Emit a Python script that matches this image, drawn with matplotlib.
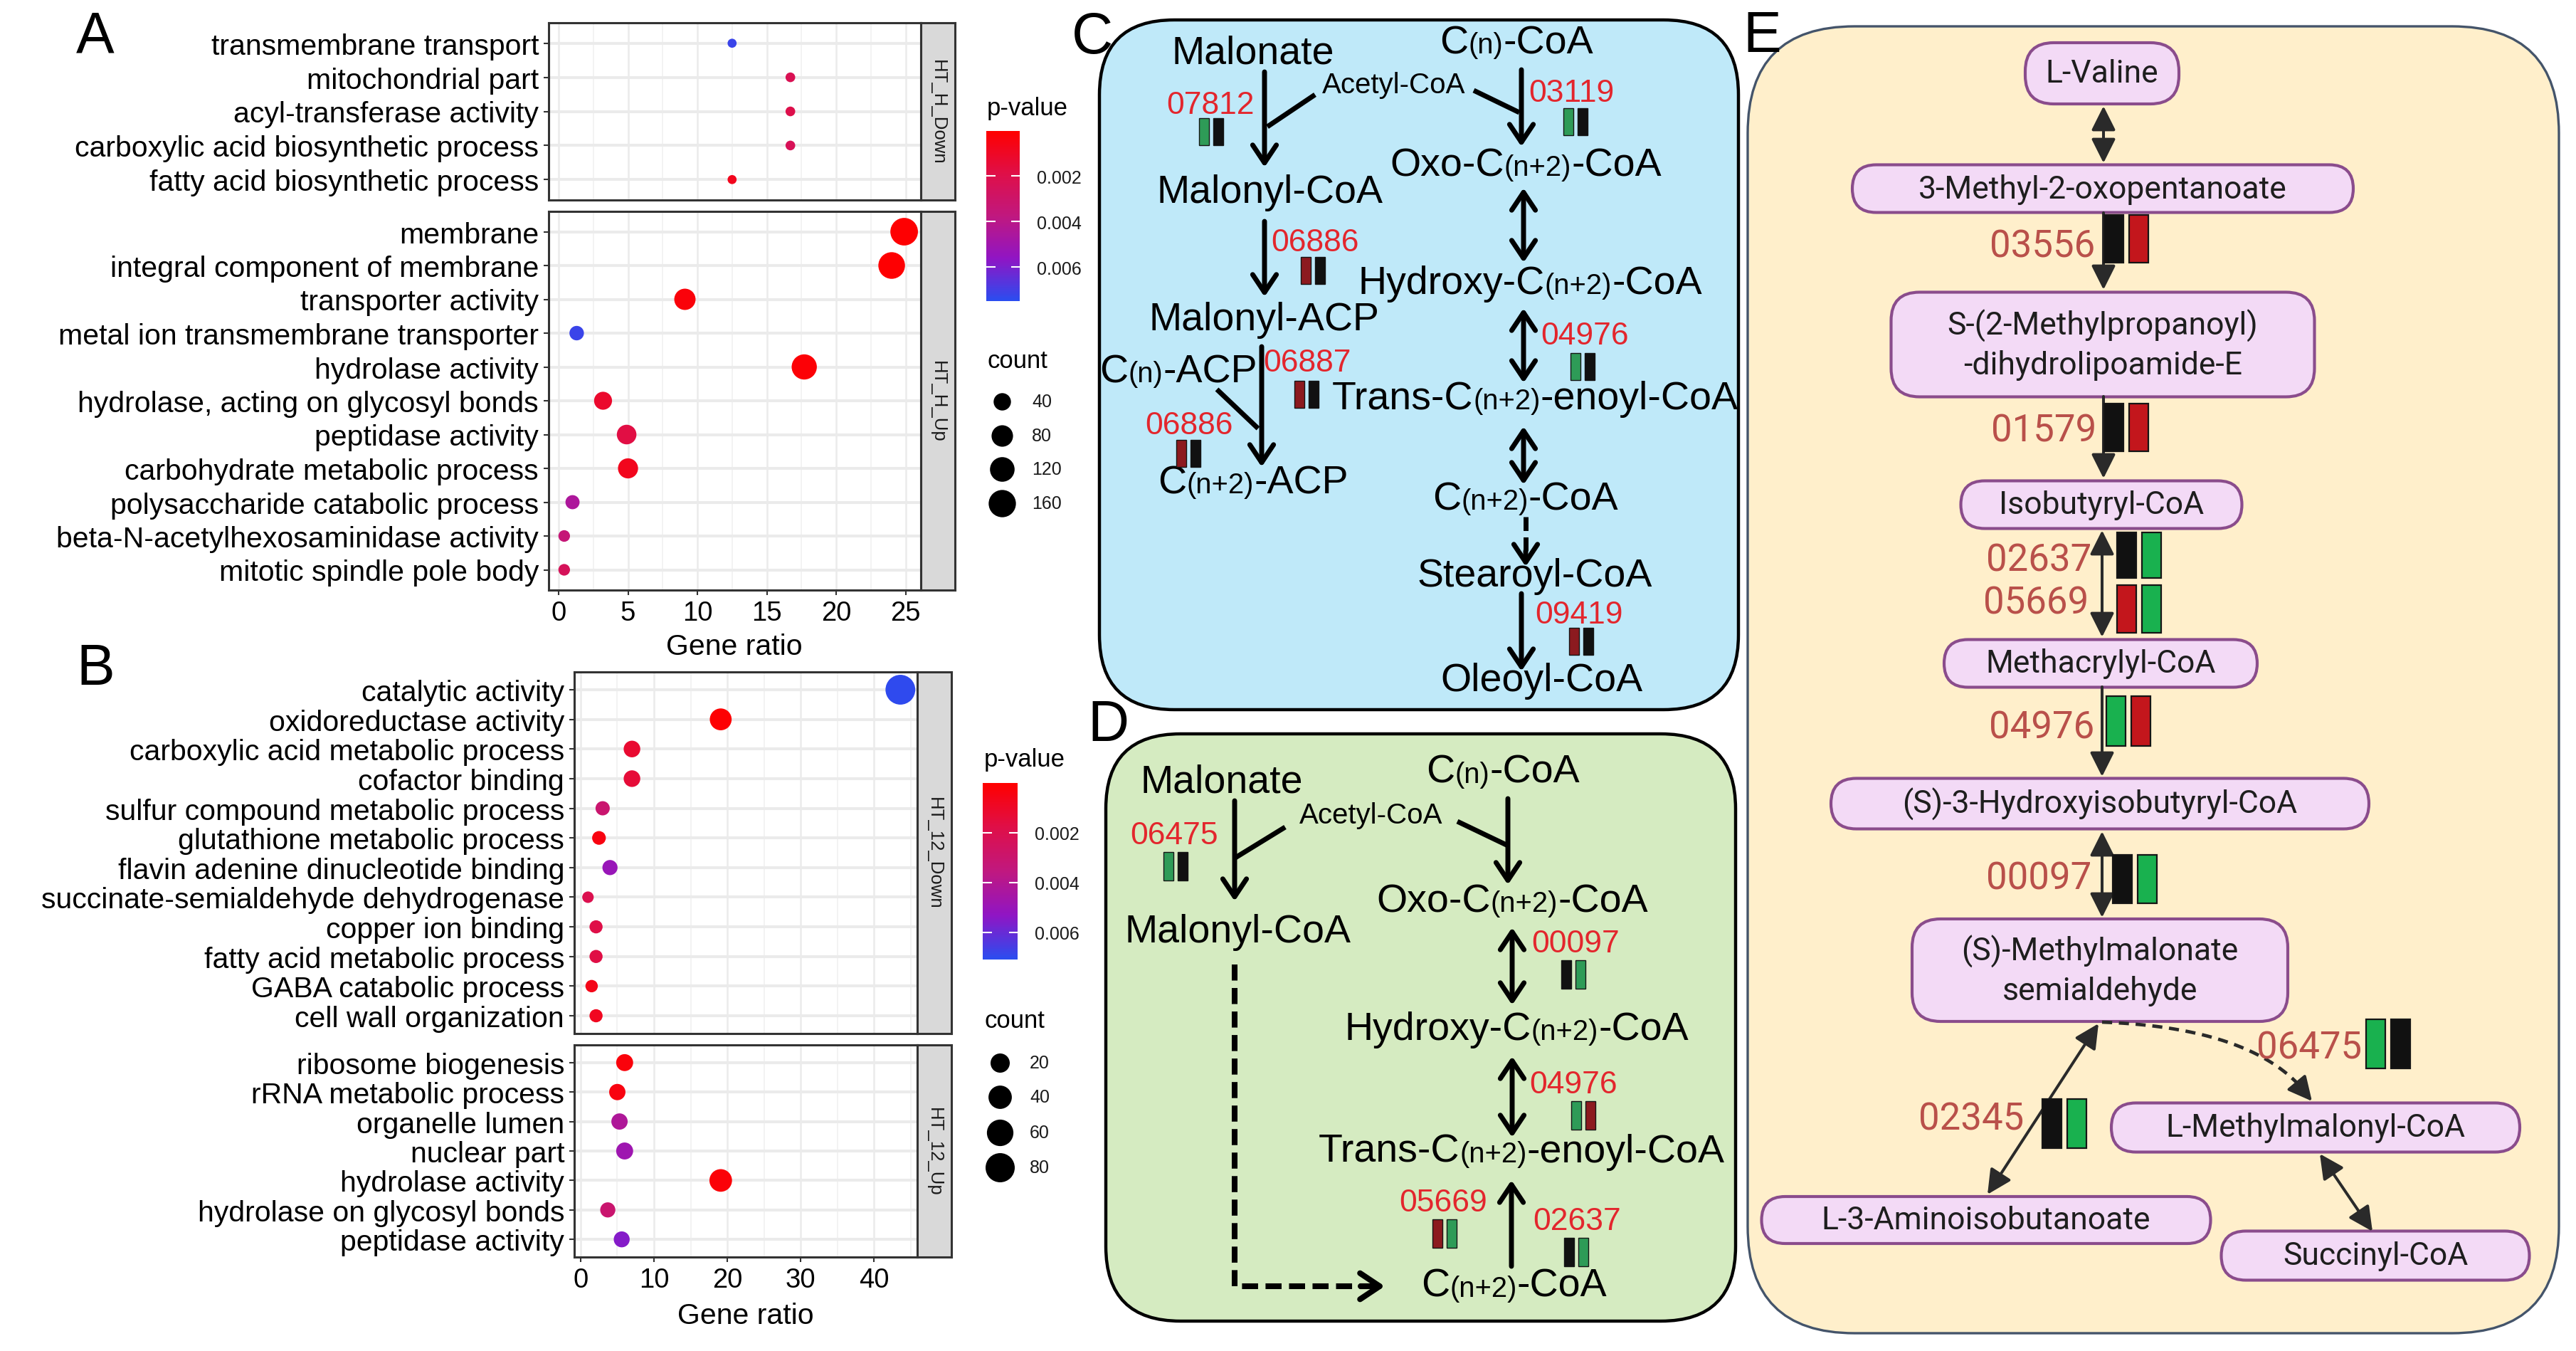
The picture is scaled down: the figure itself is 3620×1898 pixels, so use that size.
import re
import numpy as np
import matplotlib
matplotlib.use("Agg")
import matplotlib.pyplot as plt
from matplotlib.patches import FancyBboxPatch, Rectangle
from matplotlib.colors import LinearSegmentedColormap, Normalize
from matplotlib.offsetbox import TextArea, HPacker, AnnotationBbox

plt.rcParams['font.family'] = ['Liberation Sans', 'DejaVu Sans']

# ---------------- data: panel A (HT_H) ----------------
a_down_terms = ["transmembrane transport", "mitochondrial part", "acyl-transferase activity",
                "carboxylic acid biosynthetic process", "fatty acid biosynthetic process"]
a_down_ratio = [12.5, 16.7, 16.7, 16.7, 12.5]
a_down_count = [1, 2, 2, 2, 1]
a_down_p = [0.0072, 0.0023, 0.0020, 0.0024, 0.0008]

a_up_terms = ["membrane", "integral component of membrane", "transporter activity",
              "metal ion transmembrane transporter", "hydrolase activity",
              "hydrolase, acting on glycosyl bonds", "peptidase activity",
              "carbohydrate metabolic process", "polysaccharide catabolic process",
              "beta-N-acetylhexosaminidase activity", "mitotic spindle pole body"]
a_up_ratio = [24.9, 24.0, 9.1, 1.3, 17.7, 3.2, 4.9, 5.0, 1.0, 0.4, 0.4]
a_up_count = [165, 150, 78, 20, 128, 45, 60, 65, 18, 7, 7]
a_up_p = [0.0001, 0.0001, 0.0003, 0.0072, 0.0002, 0.0012, 0.0018, 0.0008, 0.0045, 0.0035, 0.0025]

a_size_legend = [40, 80, 120, 160]

# ---------------- data: panel B (HT_12) ----------------
b_down_terms = ["catalytic activity", "oxidoreductase activity", "carboxylic acid metabolic process",
                "cofactor binding", "sulfur compound metabolic process", "glutathione metabolic process",
                "flavin adenine dinucleotide binding", "succinate-semialdehyde dehydrogenase",
                "copper ion binding", "fatty acid metabolic process", "GABA catabolic process",
                "cell wall organization"]
b_down_ratio = [43.6, 19.1, 7.0, 7.0, 3.0, 2.5, 4.0, 1.0, 2.1, 2.1, 1.5, 2.1]
b_down_count = [85, 32, 11, 11, 5, 4, 7, 1, 3, 3, 2, 3]
b_down_p = [0.0070, 0.0001, 0.0012, 0.0014, 0.0030, 0.0004, 0.0050, 0.0020, 0.0018, 0.0017, 0.0006, 0.0008]

b_up_terms = ["ribosome biogenesis", "rRNA metabolic process", "organelle lumen", "nuclear part",
              "hydrolase activity", "hydrolase on glycosyl bonds", "peptidase activity"]
b_up_ratio = [6.0, 5.0, 5.3, 6.0, 19.1, 3.7, 5.6]
b_up_count = [12, 10, 10, 12, 36, 7, 9]
b_up_p = [0.0003, 0.0004, 0.0042, 0.0048, 0.0002, 0.0030, 0.0055]

b_size_legend = [20, 40, 60, 80]
p_ticks = [0.002, 0.004, 0.006]

# ---------------- pathway genes (code, expression bar colours) ----------------
GRN, DRD, BLK = '#2E9B57', '#8C1A1F', '#111111'
c_genes = [("07812", [GRN, BLK]), ("03119", [GRN, BLK]), ("06886", [DRD, BLK]),
           ("04976", [GRN, BLK]), ("06887", [DRD, BLK]), ("06886", [DRD, BLK]),
           ("09419", [DRD, BLK])]
d_genes = [("06475", [GRN, BLK]), ("00097", [BLK, GRN]), ("04976", [GRN, DRD]),
           ("05669", [DRD, GRN]), ("02637", [BLK, GRN])]
EG, ER = '#19B14F', '#C3161C'
e_genes = [("03556", [BLK, ER]), ("01579", [BLK, ER]), ("02637", [BLK, EG]),
           ("05669", [ER, EG]), ("04976", [EG, ER]), ("00097", [BLK, EG]),
           ("02345", [BLK, EG]), ("06475", [EG, BLK])]

# ---------------- figure ----------------
W, H = 3620, 1899
fig = plt.figure(figsize=(W / 100, H / 100), dpi=100)
ov = fig.add_axes([0, 0, 1, 1])
ov.set_xlim(0, W)
ov.set_ylim(H, 0)
ov.axis('off')


def px_axes(x0, y0, x1, y1):
    return fig.add_axes([x0 / W, 1 - y1 / H, (x1 - x0) / W, (y1 - y0) / H])


cmap = LinearSegmentedColormap.from_list(
    'pv', [(0, '#FF0000'), (0.25, '#DF0F48'), (0.5, '#C0187F'), (0.75, '#9015C4'), (1, '#2A4DF0')])


def facet(box, strip, terms, ratio, count, pval, xlim, major, minor, norm, d0, k, bottom):
    x0, y0, x1, y1 = box
    ax = px_axes(x0, y0, x1, y1)
    n = len(terms)
    rows = np.arange(n)
    ax.set_xlim(xlim)
    ax.set_ylim(n - 0.4, -0.6)
    for v in minor:
        ax.axvline(v, color='#F0F0F0', lw=1.1, zorder=0)
    for v in major:
        ax.axvline(v, color='#EBEBEB', lw=1.8, zorder=0)
    for r in rows:
        ax.axhline(r, color='#EBEBEB', lw=2.9, zorder=0)
    d = d0 + k * np.sqrt(np.array(count, float))
    ax.scatter(ratio, rows, s=(d * 0.72) ** 2, c=pval, cmap=cmap, norm=norm, lw=0, zorder=3)
    ax.set_yticks(rows)
    ax.set_yticklabels(terms, fontsize=29.5)
    ax.set_xticks(major)
    if bottom:
        ax.set_xticklabels([str(v) for v in major], fontsize=27.5)
    else:
        ax.tick_params(axis='x', bottom=False, labelbottom=False)
    ax.tick_params(axis='both', length=5, width=1.5, color='#333333', pad=5)
    for sp in ax.spines.values():
        sp.set_linewidth(2.2)
        sp.set_color('#333333')
    st = px_axes(x1, y0, x1 + 48, y1)
    st.set_facecolor('#D9D9D9')
    st.set_xticks([])
    st.set_yticks([])
    for sp in st.spines.values():
        sp.set_linewidth(2.2)
        sp.set_color('#333333')
    st.text(0.5, 0.5, strip, rotation=-90, ha='center', va='center', fontsize=18.5,
            color='#1A1A1A', transform=st.transAxes)


def pbar(box, norm):
    cax = px_axes(*box)
    sm = plt.cm.ScalarMappable(norm=norm, cmap=cmap)
    cb = fig.colorbar(sm, cax=cax)
    cb.outline.set_visible(False)
    cax.invert_yaxis()
    cb.set_ticks(p_ticks)
    cb.set_ticklabels(['%.3f' % t for t in p_ticks])
    cax.tick_params(left=True, right=True, direction='in', color='white', length=9, width=1.5,
                    labelsize=18, pad=17, labelcolor='#1A1A1A')


def size_legend(x, ys, vals, d0, k, labx):
    for y, v in zip(ys, vals):
        d = d0 + k * np.sqrt(v)
        ov.scatter([x], [y], s=(d * 0.72) ** 2, color='black', lw=0)
        ov.text(labx, y, str(v), fontsize=18, va='center', color='#1A1A1A')


# Panel A
normA = Normalize(0.00003, 0.0075)
facet((771, 33, 1294, 282), "HT_H_Down", a_down_terms, a_down_ratio, a_down_count, a_down_p,
      (-0.72, 26.1), [0, 5, 10, 15, 20, 25], [2.5, 7.5, 12.5, 17.5, 22.5], normA, 10.5, 2.2, False)
facet((771, 298, 1294, 830), "HT_H_Up", a_up_terms, a_up_ratio, a_up_count, a_up_p,
      (-0.72, 26.1), [0, 5, 10, 15, 20, 25], [2.5, 7.5, 12.5, 17.5, 22.5], normA, 10.5, 2.2, True)
ov.text(1032, 909, "Gene ratio", ha='center', va='center', fontsize=29.5)
ov.text(1387, 152, "p-value", va='center', fontsize=25)
pbar((1386, 185, 1433, 424), normA)
ov.text(1387, 507, "count", va='center', fontsize=25)
size_legend(1408, [565, 613, 660, 708], a_size_legend, 10.5, 2.2, 1450)

# Panel B
normB = Normalize(0.0, 0.0071)
facet((807, 945, 1289, 1453), "HT_12_Down", b_down_terms, b_down_ratio, b_down_count, b_down_p,
      (-0.87, 45.9), [0, 10, 20, 30, 40], [5, 15, 25, 35, 45], normB, 13, 3.13, False)
facet((807, 1469, 1289, 1767), "HT_12_Up", b_up_terms, b_up_ratio, b_up_count, b_up_p,
      (-0.87, 45.9), [0, 10, 20, 30, 40], [5, 15, 25, 35, 45], normB, 13, 3.13, True)
ov.text(1048, 1849, "Gene ratio", ha='center', va='center', fontsize=29.5)
ov.text(1383, 1068, "p-value", va='center', fontsize=25)
pbar((1381, 1101, 1430, 1349), normB)
ov.text(1383, 1434, "count", va='center', fontsize=25)
size_legend(1405, [1494, 1542, 1592, 1641], b_size_legend, 13, 3.13, 1447)

# panel letters
for lab, x, y in [("A", 134, 52), ("B", 134, 941), ("C", 1535, 54), ("D", 1557, 1020), ("E", 2476, 52)]:
    ov.text(x, y, lab, ha='center', va='center', fontsize=58)


# ---------------- helpers for pathway panels ----------------
def chem(x, y, label, size=40):
    kids = []
    for part in re.split(r'(\(n(?:\+2)?\))', label):
        if not part:
            continue
        fs = size * 0.72 if part.startswith('(n') else size
        kids.append(TextArea(part, textprops=dict(fontsize=fs, color='black')))
    box = HPacker(children=kids, align='baseline', pad=0, sep=0)
    ov.add_artist(AnnotationBbox(box, (x, y), frameon=False, box_alignment=(0.5, 0.5), pad=0, zorder=5))


def bars(x, y, colors, w=14, h=38, gap=6, lw=1.0):
    for i, c in enumerate(colors):
        ov.add_patch(Rectangle((x + i * (w + gap), y), w, h, fc=c, ec='#151515', lw=lw, zorder=5))


def arrow(p0, p1, style='->', lw=5.0, ms=40, color='black'):
    ov.annotate('', xy=p1, xytext=p0, zorder=4,
                arrowprops=dict(arrowstyle=style, lw=lw, color=color, mutation_scale=ms,
                                shrinkA=0, shrinkB=0))


def line(pts, ls='-', lw=5.0, color='black', dashes=(2.8, 1.3)):
    pts = np.array(pts, float)
    ln, = ov.plot(pts[:, 0], pts[:, 1], lw=lw, color=color, zorder=4, solid_capstyle='butt')
    if ls == '--':
        ln.set_dashes(dashes)


OPEN1 = '->,head_length=0.45,head_width=0.3'
OPEN2 = '<->,head_length=0.45,head_width=0.3'
RED = '#E3262D'

# ---------------- Panel C ----------------
ov.add_patch(FancyBboxPatch((1545, 29), 898, 969, boxstyle='round,pad=0,rounding_size=105',
                            fc='#BFE9F9', ec='black', lw=3.2, zorder=1))
c_nodes = [("Malonate", 1761, 75), ("C(n)-CoA", 2131, 61), ("Malonyl-CoA", 1784, 271),
           ("Oxo-C(n+2)-CoA", 2144, 233), ("Hydroxy-C(n+2)-CoA", 2150, 399),
           ("Malonyl-ACP", 1776, 450), ("C(n)-ACP", 1656, 523),
           ("Trans-C(n+2)-enoyl-CoA", 2157, 561), ("C(n+2)-ACP", 1761, 679),
           ("C(n+2)-CoA", 2144, 702), ("Stearoyl-CoA", 2157, 810), ("Oleoyl-CoA", 2166, 957)]
for lab, x, y in c_nodes:
    chem(x, y, lab)
ov.text(1959, 120, "Acetyl-CoA", ha='center', va='center', fontsize=29, zorder=5)
c_lab_pos = [(1701, 148), (2208, 131), (1848, 341), (2227, 472), (1837, 510), (1671, 598), (2219, 864)]
c_bar_pos = [(1685, 167), (2197, 153), (1828, 362), (2207, 497), (1819, 536), (1653, 619), (2205, 883)]
for (code, cols), (lx, ly), (bx, by) in zip(c_genes, c_lab_pos, c_bar_pos):
    ov.text(lx, ly, code, ha='center', va='center', fontsize=32, color=RED, zorder=5)
    bars(bx, by, cols)
arrow((1777, 102), (1777, 236), OPEN1)
line([(1848, 134), (1781, 179)])
arrow((2138, 99), (2138, 207), OPEN1)
line([(2071, 128), (2135, 159)])
arrow((2141, 265), (2141, 370), OPEN2)
arrow((1777, 312), (1777, 418), OPEN1)
arrow((2141, 434), (2141, 539), OPEN2)
arrow((1773, 488), (1773, 657), OPEN1)
line([(1710, 548), (1768, 603)])
arrow((2141, 600), (2141, 682), OPEN2)
line([(2144, 727), (2144, 780)], ls='--')
arrow((2144, 775), (2144, 797), OPEN1)
arrow((2138, 835), (2138, 944), OPEN1)

# ---------------- Panel D ----------------
ov.add_patch(FancyBboxPatch((1554, 1032), 885, 825, boxstyle='round,pad=0,rounding_size=105',
                            fc='#D5EBC1', ec='black', lw=3.2, zorder=1))
d_nodes = [("Malonate", 1717, 1100), ("C(n)-CoA", 2112, 1086), ("Oxo-C(n+2)-CoA", 2125, 1267),
           ("Malonyl-CoA", 1739, 1310), ("Hydroxy-C(n+2)-CoA", 2131, 1447),
           ("Trans-C(n+2)-enoyl-CoA", 2138, 1619), ("C(n+2)-CoA", 2128, 1808)]
for lab, x, y in d_nodes:
    chem(x, y, lab)
ov.text(1927, 1146, "Acetyl-CoA", ha='center', va='center', fontsize=29, zorder=5)
d_lab_pos = [(1650, 1175), (2214, 1327), (2211, 1525), (2028, 1691), (2216, 1717)]
d_bar_pos = [(1635, 1198), (2194, 1350), (2208, 1548), (2013, 1714), (2198, 1740)]
for (code, cols), (lx, ly), (bx, by) in zip(d_genes, d_lab_pos, d_bar_pos):
    ov.text(lx, ly, code, ha='center', va='center', fontsize=32, color=RED, zorder=5)
    bars(bx, by, cols, h=40)
arrow((1735, 1126), (1735, 1267), OPEN1)
line([(1806, 1163), (1736, 1206)])
arrow((2119, 1123), (2119, 1244), OPEN1)
line([(2048, 1155), (2119, 1189)])
arrow((2125, 1304), (2125, 1413), OPEN2)
arrow((2125, 1485), (2125, 1599), OPEN2)
arrow((2124, 1780), (2124, 1659), OPEN1)
line([(1735, 1356), (1735, 1808), (1925, 1808)], ls='--', lw=5.8)
arrow((1912, 1808), (1946, 1808), OPEN1, lw=5.8, ms=44)

# ---------------- Panel E ----------------
ov.add_patch(FancyBboxPatch((2456, 38), 1140, 1836, boxstyle='round,pad=0,rounding_size=150',
                            fc='#FFEFCB', ec='#44546A', lw=2.4, zorder=1))
e_nodes = [("L-Valine", 2954, 104, 216, 86), ("3-Methyl-2-oxopentanoate", 2955, 266, 704, 67),
           ("S-(2-Methylpropanoyl)\n-dihydrolipoamide-E", 2955, 485, 595, 147),
           ("Isobutyryl-CoA", 2953, 710, 395, 67), ("Methacrylyl-CoA", 2952, 933, 440, 67),
           ("(S)-3-Hydroxyisobutyryl-CoA", 2951, 1130, 756, 71),
           ("(S)-Methylmalonate\nsemialdehyde", 2951, 1364, 528, 144),
           ("L-Methylmalonyl-CoA", 3254, 1585, 574, 69), ("L-3-Aminoisobutanoate", 2791, 1715, 631, 66),
           ("Succinyl-CoA", 3338, 1765, 433, 69)]
for lab, cx, cy, w, h in e_nodes:
    ov.add_patch(FancyBboxPatch((cx - w / 2, cy - h / 2), w, h,
                                boxstyle='round,pad=0,rounding_size=%.1f' % min(h / 2, 40),
                                fc='#F3DAF6', ec='#8A4C8C', lw=3.0, zorder=3))
    ov.text(cx, cy, lab, ha='center', va='center', fontsize=32, family='Roboto',
            color='#1E1E1E', zorder=4, linespacing=1.3)
e_lab_pos = [(2944, 347), (2946, 606), (2939, 788), (2935, 848), (2943, 1023), (2939, 1235),
             (2844, 1573), (3319, 1473)]
e_bar_pos = [(2957, 303, 67), (2957, 568, 67), (2975, 749, 64), (2975, 823, 67), (2960, 979, 70),
             (2969, 1202, 68), (2870, 1545, 69), (3325, 1433, 69)]
for (code, cols), (lx, ly), (bx, by, bh) in zip(e_genes, e_lab_pos, e_bar_pos):
    ov.text(lx, ly, code, ha='right', va='center', fontsize=38, family='Roboto', color='#B9504A', zorder=5)
    bars(bx, by, cols, w=27, h=bh, gap=8, lw=1.6)
EC = '#2A2A2A'
F1 = '-|>,head_length=0.4,head_width=0.2'
F2 = '<|-|>,head_length=0.4,head_width=0.2'
arrow((2956, 150), (2956, 230), F2, lw=2.9, ms=52, color=EC)
arrow((2956, 300), (2956, 408), F1, lw=2.9, ms=52, color=EC)
arrow((2956, 558), (2956, 673), F1, lw=2.9, ms=52, color=EC)
arrow((2954, 746), (2954, 896), F2, lw=2.9, ms=52, color=EC)
arrow((2954, 966), (2954, 1092), F1, lw=2.9, ms=52, color=EC)
arrow((2954, 1169), (2954, 1290), F2, lw=2.9, ms=52, color=EC)
arrow((2949, 1439), (2793, 1679), F2, lw=2.9, ms=52, color=EC)
arrow((3260, 1622), (3334, 1731), F2, lw=2.9, ms=52, color=EC)
# dashed curve towards L-Methylmalonyl-CoA
p0, p1, p2 = np.array([2954, 1437.]), np.array([3180, 1445.]), np.array([3249, 1548.])
t = np.linspace(0, 0.86, 40)[:, None]
curve = (1 - t) ** 2 * p0 + 2 * (1 - t) * t * p1 + t ** 2 * p2
line(curve, ls='--', lw=3.4, color=EC, dashes=(3, 2))
arrow(tuple(curve[-1]), tuple(p2), F1, lw=2.9, ms=52, color=EC)

ov.set_xlim(0, W)
ov.set_ylim(H, 0)
fig.savefig("out.png", dpi=100)
